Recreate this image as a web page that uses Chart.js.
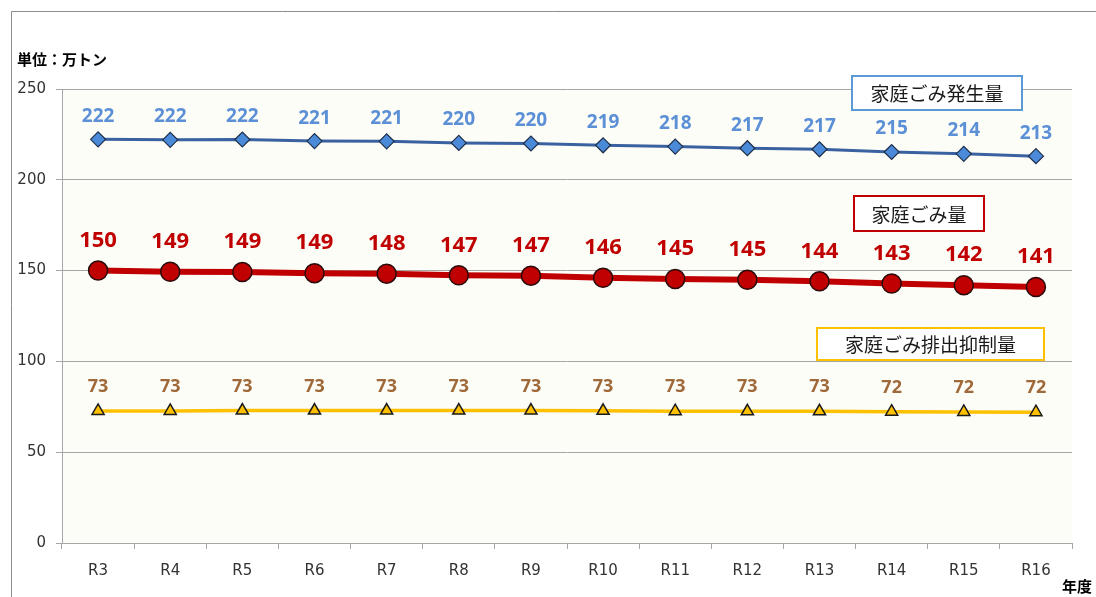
<!DOCTYPE html>
<html lang="ja">
<head>
<meta charset="utf-8">
<script src="https://cdn.jsdelivr.net/npm/chart.js@4"></script>
<style>
  html, body { margin: 0; padding: 0; background: #fff; }
  #wrap { width: 1096px; height: 597px; position: relative; }
</style>
</head>
<body>
<div id="wrap"><canvas id="c" width="1096" height="597"></canvas></div>
<script>
// 家庭ごみ量の推移（万トン）

const nendo = ["R3", "R4", "R5", "R6", "R7", "R8", "R9", "R10", "R11", "R12", "R13", "R14", "R15", "R16"];
const hasseiryo = [222.3, 222.0, 222.2, 221.3, 221.2, 220.3, 220.0, 219.0, 218.3, 217.4, 216.8, 215.3, 214.3, 213.0];
const kateigomi = [150.0, 149.4, 149.2, 148.6, 148.3, 147.4, 147.2, 146.0, 145.4, 144.9, 144.1, 142.9, 142.0, 141.0];
const yokuseiryo = [72.7, 72.7, 72.9, 72.9, 72.9, 72.9, 72.9, 72.8, 72.6, 72.5, 72.5, 72.3, 72.2, 72.0];
const yTicks = [0, 50, 100, 150, 200, 250];

const gridColor = "#a6a6a6";
const tickColor = "#333";

// 凡例ボックス（グラフ上に直接置かれたラベル）
const legendBoxes = [
  { text: "家庭ごみ発生量", x: 852, y: 76, w: 170, h: 34, border: "#5b9bd5" },
  { text: "家庭ごみ量", x: 854, y: 196, w: 130, h: 35, border: "#c00000" },
  { text: "家庭ごみ排出抑制量", x: 817, y: 328, w: 227, h: 32, border: "#ffc000" }
];

const framePlugin = {
  id: "frame",
  beforeDraw(chart) {
    const { ctx, chartArea: a } = chart;
    ctx.save();
    ctx.fillStyle = "#fff";
    ctx.fillRect(0, 0, chart.width, chart.height);
    ctx.fillStyle = "#fdfdf8";
    ctx.fillRect(a.left, a.top, a.right - a.left, a.bottom - a.top);
    // 外枠
    ctx.strokeStyle = "#8c8c8c";
    ctx.lineWidth = 1;
    ctx.beginPath();
    ctx.moveTo(11.5, chart.height);
    ctx.lineTo(11.5, 11.5);
    ctx.lineTo(chart.width, 11.5);
    ctx.stroke();
    ctx.restore();
  },
  afterDraw(chart) {
    const { ctx } = chart;
    ctx.save();
    ctx.fillStyle = "#000";
    ctx.font = "bold 15px 'Noto Sans CJK JP'";
    ctx.textBaseline = "middle";
    ctx.textAlign = "left";
    ctx.fillText("単位：万トン", 17, 59);
    ctx.fillText("年度", 1062, 586);

    legendBoxes.forEach(b => {
      ctx.fillStyle = "#fff";
      ctx.fillRect(b.x, b.y, b.w, b.h);
      ctx.strokeStyle = b.border;
      ctx.lineWidth = 2;
      ctx.strokeRect(b.x, b.y, b.w, b.h);
      ctx.fillStyle = "#1a1a1a";
      ctx.font = "19px 'Noto Sans CJK JP'";
      ctx.textAlign = "center";
      ctx.fillText(b.text, b.x + b.w / 2, b.y + b.h / 2 + 1);
    });
    ctx.restore();
  }
};

const labelPlugin = {
  id: "valueLabels",
  afterDatasetsDraw(chart) {
    const { ctx } = chart;
    ctx.save();
    ctx.textAlign = "center";
    ctx.textBaseline = "middle";
    chart.data.datasets.forEach((ds, i) => {
      const meta = chart.getDatasetMeta(i);
      ctx.fillStyle = ds.labelColor;
      ctx.font = ds.labelFont;
      meta.data.forEach((pt, j) => {
        ctx.fillText(String(Math.round(ds.data[j])), pt.x, pt.y - ds.labelOffset);
      });
    });
    ctx.restore();
  }
};

new Chart(document.getElementById("c"), {
  type: "line",
  data: {
    labels: nendo,
    datasets: [
      {
        label: "家庭ごみ発生量", data: hasseiryo,
        borderColor: "#3a62a0", borderWidth: 3,
        pointStyle: "rectRot", pointRadius: 7.5, pointBackgroundColor: "#4a8ad8",
        pointBorderColor: "#1f2f4a", pointBorderWidth: 1.2,
        labelColor: "#5b8fd6", labelFont: "bold 19px 'Noto Sans'", labelOffset: 23
      },
      {
        label: "家庭ごみ量", data: kateigomi,
        borderColor: "#c00000", borderWidth: 6,
        pointStyle: "circle", pointRadius: 9.5, pointBackgroundColor: "#c00000",
        pointBorderColor: "#2a0a0a", pointBorderWidth: 1.5,
        labelColor: "#c00000", labelFont: "bold 22px 'Noto Sans'", labelOffset: 30
      },
      {
        label: "家庭ごみ排出抑制量", data: yokuseiryo,
        borderColor: "#ffc000", borderWidth: 3.5,
        pointStyle: "triangle", pointRadius: 7, pointBackgroundColor: "#ffc000",
        pointBorderColor: "#1a1a1a", pointBorderWidth: 1.5,
        labelColor: "#a0693a", labelFont: "bold 18px 'Noto Sans'", labelOffset: 24
      }
    ]
  },
  options: {
    responsive: false,
    animation: false,
    layout: { padding: { top: 89, right: 24, left: 0, bottom: 0 } },
    plugins: { legend: { display: false }, tooltip: { enabled: false } },
    scales: {
      x: {
        offset: true,
        grid: { offset: true, drawOnChartArea: false, color: gridColor, tickLength: 6, lineWidth: 1 },
        border: { color: gridColor, width: 1 },
        ticks: { color: tickColor, font: { family: "DejaVu Sans", size: 15 }, padding: 13, maxRotation: 0 },
        afterFit: (axis) => { axis.height = 54; }
      },
      y: {
        min: 0, max: 250,
        afterBuildTicks: (axis) => { axis.ticks = yTicks.map(v => ({ value: v })); },
        grid: { color: gridColor, tickLength: 6, lineWidth: 1 },
        border: { color: gridColor, width: 1 },
        ticks: { color: tickColor, font: { family: "DejaVu Sans", size: 15 }, padding: 10 },
        afterFit: (axis) => { axis.width = 62; }
      }
    }
  },
  plugins: [framePlugin, labelPlugin]
});
</script>
</body>
</html>
